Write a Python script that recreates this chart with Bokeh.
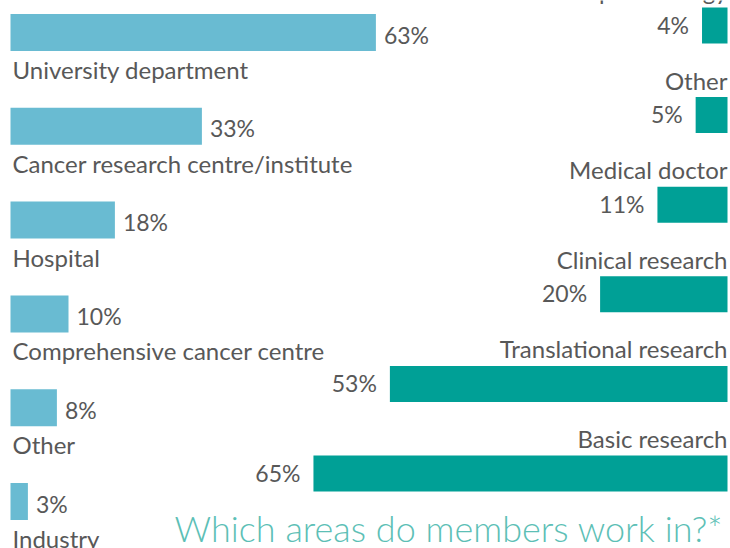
from bokeh.plotting import figure
from bokeh.models import Range1d, ColumnDataSource, Label
from bokeh.core.properties import value
from bokeh.embed import file_html
from bokeh.resources import INLINE

# ---- data ----
left_categories = ["University department", "Cancer research centre/institute", "Hospital",
                   "Comprehensive cancer centre", "Other", "Industry"]
left_values = [63, 33, 18, 10, 8, 3]

right_categories = ["Epidemiology", "Other", "Medical doctor", "Clinical research",
                    "Translational research", "Basic research"]
right_values = [4, 5, 11, 20, 53, 65]

title_text = "Which areas do members work in?*"

# ---- styling / layout ----
W, H = 730, 548
LEFT_COLOR = "#69bbd2"
RIGHT_COLOR = "#00a096"
TEXT_COLOR = "#585858"
TITLE_COLOR = "#5dbfb6"
FONT = value("Lato")

L_PX = 5.8      # px per percent, left
R_PX = 6.37     # px per percent, right
L_ROW = 93.8    # px per row, left
R_ROW = 89.6    # px per row, right
L_X0 = 10       # left bars start (px)
R_X0 = 727      # right bars end (px)
L_Y0 = 32       # first left row centre (px)
R_Y0 = 25       # first right row centre (px)

p = figure(width=W, height=H, output_backend="svg", toolbar_location=None,
           min_border=0, min_border_left=0, min_border_right=0,
           min_border_top=0, min_border_bottom=0,
           x_range=Range1d(-L_X0 / L_PX, (W - L_X0) / L_PX),
           y_range=Range1d((H - L_Y0) / L_ROW, -L_Y0 / L_ROW))
p.extra_x_ranges = {"r": Range1d(R_X0 / R_PX, (R_X0 - W) / R_PX)}
p.extra_y_ranges = {"r": Range1d((H - R_Y0) / R_ROW, -R_Y0 / R_ROW)}
p.axis.visible = False
p.grid.visible = False
p.outline_line_color = None
p.background_fill_color = "white"
p.border_fill_color = "white"

left_src = ColumnDataSource(dict(
    row=list(range(len(left_categories))),
    cat=left_categories,
    val=left_values,
    lab=[f"{v}%" for v in left_values],
))
right_src = ColumnDataSource(dict(
    row=list(range(len(right_categories))),
    cat=right_categories,
    val=right_values,
    lab=[f"{v}%" for v in right_values],
))

# left side
p.hbar(y="row", left=0, right="val", height=37 / L_ROW, source=left_src,
       fill_color=LEFT_COLOR, line_color=None)
p.text(x="val", y="row", text="lab", source=left_src, x_offset=8, y_offset=2,
       text_align="left", text_baseline="middle", text_font=FONT,
       text_font_size="23px", text_color=TEXT_COLOR)
p.text(x=0, y="row", text="cat", source=left_src, x_offset=2, y_offset=37,
       text_align="left", text_baseline="middle", text_font=FONT,
       text_font_size="24px", text_color=TEXT_COLOR)

# right side
p.hbar(y="row", left=0, right="val", height=36 / R_ROW, source=right_src,
       fill_color=RIGHT_COLOR, line_color=None,
       x_range_name="r", y_range_name="r")
p.text(x="val", y="row", text="lab", source=right_src, x_offset=-13, y_offset=-1,
       text_align="right", text_baseline="middle", text_font=FONT,
       text_font_size="23px", text_color=TEXT_COLOR,
       x_range_name="r", y_range_name="r")
p.text(x=0, y="row", text="cat", source=right_src, x_offset=0, y_offset=-35,
       text_align="right", text_baseline="middle", text_font=FONT,
       text_font_size="24px", text_color=TEXT_COLOR,
       x_range_name="r", y_range_name="r")

# title
p.add_layout(Label(x=(174 - L_X0) / L_PX, y=(527 - L_Y0) / L_ROW, text=title_text,
                   text_align="left", text_baseline="alphabetic",
                   text_font="Lato Light", text_font_size="36px", text_color=TITLE_COLOR))

open("out.html", "w").write(file_html(p, INLINE))
